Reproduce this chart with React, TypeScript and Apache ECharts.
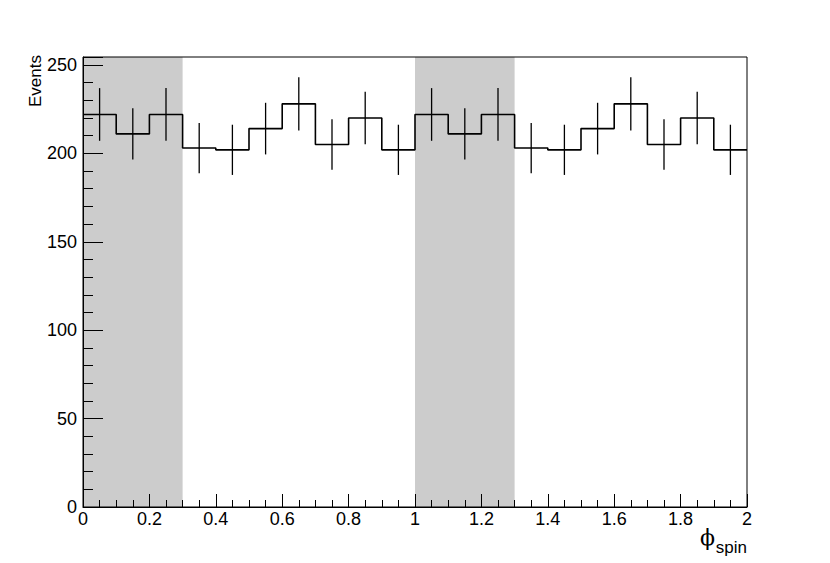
import React, { useEffect, useRef } from "react";
import * as echarts from "echarts";

// Histogram bins (lower edges), counts and errors
const binLow = [0.0, 0.1, 0.2, 0.3, 0.4, 0.5, 0.6, 0.7, 0.8, 0.9, 1.0, 1.1, 1.2, 1.3, 1.4, 1.5, 1.6, 1.7, 1.8, 1.9];
const binWidth = 0.1;
const counts = [222, 211, 222, 203, 202, 214, 228, 205, 220, 202, 222, 211, 222, 203, 202, 214, 228, 205, 220, 202];
const errors = [14.9, 14.5, 14.9, 14.2, 14.2, 14.6, 15.1, 14.3, 14.8, 14.2, 14.9, 14.5, 14.9, 14.2, 14.2, 14.6, 15.1, 14.3, 14.8, 14.2];

// Shaded bands
const bandStarts = [0.0, 1.0];
const bandEnds = [0.3, 1.3];

// Axis ranges
const xMin = 0;
const xMax = 2;
const yMin = 0;
const yMax = 254.5;

const FONT = '"Liberation Sans", Arial, Helvetica, sans-serif';

export default function App() {
  const ref = useRef<HTMLDivElement>(null);

  useEffect(() => {
    if (!ref.current) return;
    const chart = echarts.init(ref.current, null, { renderer: "svg" });

    const stepData: number[][] = binLow.map((x, i) => [x, counts[i]]);
    stepData.push([xMax, counts[counts.length - 1]]);

    const errData = binLow.map((x, i) => [x + binWidth / 2, counts[i], errors[i]]);
    const bandData = bandStarts.map((s, i) => [s, bandEnds[i]]);

    const axisLabelStyle = { color: "#000", fontFamily: FONT, fontSize: 18 };

    chart.setOption({
      animation: false,
      backgroundColor: "#fff",
      grid: {
        left: 83,
        right: 83,
        top: 57,
        bottom: 56,
        show: true,
        borderColor: "#000",
        borderWidth: 1,
        backgroundColor: "transparent",
        z: 10,
      },
      xAxis: {
        type: "value",
        min: xMin,
        max: xMax,
        interval: 0.2,
        z: 10,
        axisLine: { show: true, onZero: false, lineStyle: { color: "#000", width: 1 } },
        axisTick: { show: true, inside: true, length: 13, lineStyle: { color: "#000", width: 1 } },
        minorTick: { show: true, splitNumber: 4, length: 7, lineStyle: { color: "#000", width: 1 } },
        splitLine: { show: false },
        minorSplitLine: { show: false },
        axisLabel: { ...axisLabelStyle, margin: 3 },
      },
      yAxis: [
        {
          type: "value",
          min: yMin,
          max: yMax,
          interval: 10,
          z: 10,
          axisLine: { show: true, onZero: false, lineStyle: { color: "#000", width: 1 } },
          axisTick: { show: true, inside: true, length: 10, lineStyle: { color: "#000", width: 1 } },
          splitLine: { show: false },
          axisLabel: {
            ...axisLabelStyle,
            margin: 6,
            formatter: (v: number) => (Math.abs(v % 50) < 1e-6 ? String(v) : ""),
          },
        },
        {
          type: "value",
          position: "left",
          min: yMin,
          max: yMax,
          interval: 50,
          z: 10,
          axisLine: { show: false },
          axisTick: { show: true, inside: true, length: 20, lineStyle: { color: "#000", width: 1 } },
          splitLine: { show: false },
          axisLabel: { show: false },
        },
      ],
      series: [
        {
          type: "custom",
          name: "bands",
          z: 0,
          silent: true,
          data: bandData,
          renderItem: (params: any, api: any) => {
            const cs = params.coordSys;
            const p0 = api.coord([api.value(0), yMin]);
            const p1 = api.coord([api.value(1), yMin]);
            return {
              type: "rect",
              shape: { x: p0[0], y: cs.y, width: p1[0] - p0[0], height: cs.height },
              style: { fill: "#cccccc" },
            };
          },
        },
        {
          type: "line",
          name: "hist",
          step: "end",
          z: 3,
          symbol: "none",
          showSymbol: false,
          data: stepData,
          lineStyle: { color: "#000", width: 1.6 },
        },
        {
          type: "custom",
          name: "errors",
          z: 4,
          data: errData,
          renderItem: (params: any, api: any) => {
            const c = api.value(0);
            const v = api.value(1);
            const e = api.value(2);
            const top = api.coord([c, v + e]);
            const bot = api.coord([c, v - e]);
            return {
              type: "line",
              shape: { x1: top[0], y1: top[1], x2: bot[0], y2: bot[1] },
              style: { stroke: "#000", lineWidth: 1.3 },
            };
          },
        },
      ],
      graphic: [
        {
          type: "text",
          x: 27,
          y: 55,
          rotation: Math.PI / 2,
          style: {
            text: "Events",
            fill: "#000",
            font: `17px ${FONT}`,
            textAlign: "right",
            textVerticalAlign: "top",
          },
        },
        {
          type: "text",
          x: 700,
          y: 537,
          style: {
            text: "\u03d5",
            fill: "#000",
            font: `22px "DejaVu Serif", "Liberation Serif", serif`,
            textAlign: "left",
            textVerticalAlign: "middle",
          },
        },
        {
          type: "text",
          x: 747,
          y: 547,
          style: {
            text: "spin",
            fill: "#000",
            font: `17px ${FONT}`,
            textAlign: "right",
            textVerticalAlign: "middle",
          },
        },
      ],
    });

    return () => chart.dispose();
  }, []);

  return (
    <div
      ref={ref}
      style={{ position: "absolute", left: 0, top: 0, width: 830, height: 563, background: "#fff" }}
    />
  );
}
